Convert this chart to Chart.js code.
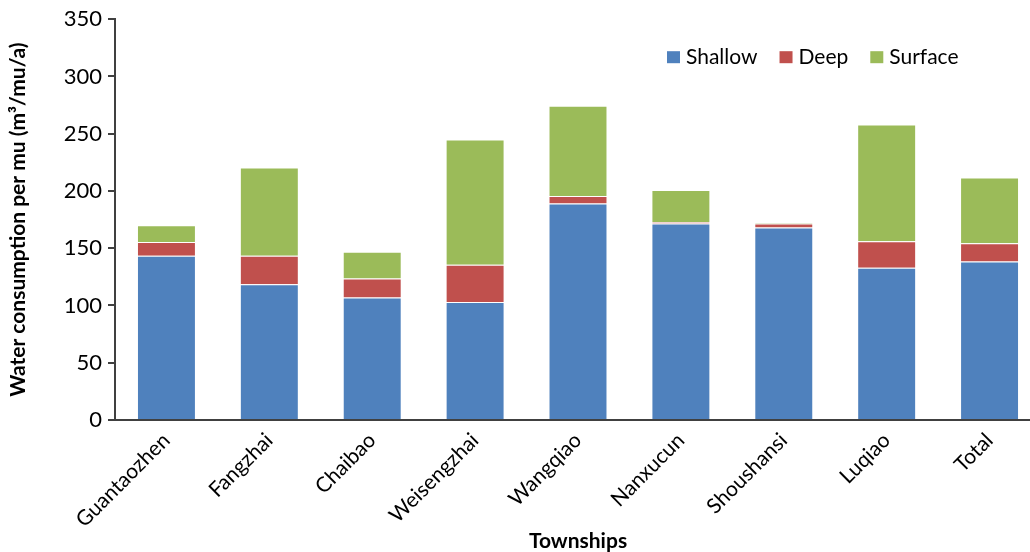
<!DOCTYPE html>
<html>
<head>
<meta charset="utf-8">
<script src="https://cdn.jsdelivr.net/npm/chart.js@4"></script>
<style>
  html, body { margin: 0; padding: 0; background: #fff; overflow: hidden; }
  #wrap { position: absolute; left: 0; top: 0; width: 1046px; height: 552px; }
</style>
</head>
<body>
<div id="wrap"><canvas id="chart"></canvas></div>
<script>
const townships = ["Guantaozhen", "Fangzhai", "Chaibao", "Weisengzhai", "Wangqiao", "Nanxucun", "Shoushansi", "Luqiao", "Total"];
const shallow = [143.5, 118.5, 107, 103, 189, 171.5, 168, 133, 138.5];
const deep = [12, 25, 16.5, 32.5, 6.5, 1.3, 3.7, 23, 15.8];
const surface = [14.5, 77, 23.5, 109.5, 79, 28, 0.5, 102, 57.5];
const yTicks = [0, 50, 100, 150, 200, 250, 300, 350];

const axisColor = "#404040";
const fontFamily = "Lato, 'Open Sans', sans-serif";

// legend drawn inside the plot, top right
const insideLegend = {
  id: "insideLegend",
  afterDraw(chart) {
    const { ctx, chartArea } = chart;
    ctx.save();
    ctx.font = "21px " + fontFamily;
    ctx.textBaseline = "middle";
    let x = chartArea.left + 552;
    const y = chartArea.top + 38;
    chart.data.datasets.forEach((ds) => {
      ctx.fillStyle = ds.backgroundColor;
      ctx.fillRect(x, y - 6, 13, 12);
      ctx.fillStyle = "#000";
      ctx.fillText(ds.label, x + 19, y);
      x += 19 + ctx.measureText(ds.label).width + 22;
    });
    ctx.restore();
  }
};

new Chart(document.getElementById("chart"), {
  type: "bar",
  data: {
    labels: townships,
    datasets: [
      { label: "Shallow", data: shallow, backgroundColor: "#4F81BD" },
      { label: "Deep", data: deep, backgroundColor: "#C0504D" },
      { label: "Surface", data: surface, backgroundColor: "#9BBB59" }
    ]
  },
  options: {
    responsive: true,
    maintainAspectRatio: false,
    animation: false,
    layout: { padding: { left: 0, right: 5, top: 19, bottom: 0 } },
    datasets: {
      bar: {
        categoryPercentage: 1,
        barPercentage: 0.573,
        borderWidth: 1,
        borderColor: "rgba(255,255,255,0.35)"
      }
    },
    plugins: {
      legend: { display: false },
      tooltip: { enabled: false }
    },
    scales: {
      x: {
        stacked: true,
        grid: { display: true, drawOnChartArea: false, drawTicks: false },
        border: { display: true, color: axisColor, width: 2 },
        ticks: {
          color: "#000",
          font: { family: fontFamily, size: 21 },
          minRotation: 45,
          maxRotation: 45,
          padding: 8
        },
        title: {
          display: true,
          text: "Townships",
          color: "#000",
          font: { family: fontFamily, size: 21, weight: "bold" },
          padding: { top: 0, bottom: -2 }
        },
        afterFit(scale) { scale.height = 132; }
      },
      y: {
        stacked: true,
        min: 0,
        max: 350,
        afterBuildTicks(scale) { scale.ticks = yTicks.map((v) => ({ value: v })); },
        grid: { display: true, drawOnChartArea: false, drawTicks: true, tickLength: 7, color: axisColor, lineWidth: 2 },
        border: { display: true, color: axisColor, width: 2 },
        ticks: {
          color: "#000",
          font: { family: fontFamily, size: 22 },
          padding: 6
        },
        title: {
          display: true,
          text: "Water consumption per mu (m³/mu/a)",
          color: "#000",
          font: { family: fontFamily, size: 21, weight: "bold" },
          padding: { top: 6, bottom: 0 }
        },
        afterFit(scale) { scale.width = 115; }
      }
    }
  },
  plugins: [insideLegend]
});
</script>
</body>
</html>
